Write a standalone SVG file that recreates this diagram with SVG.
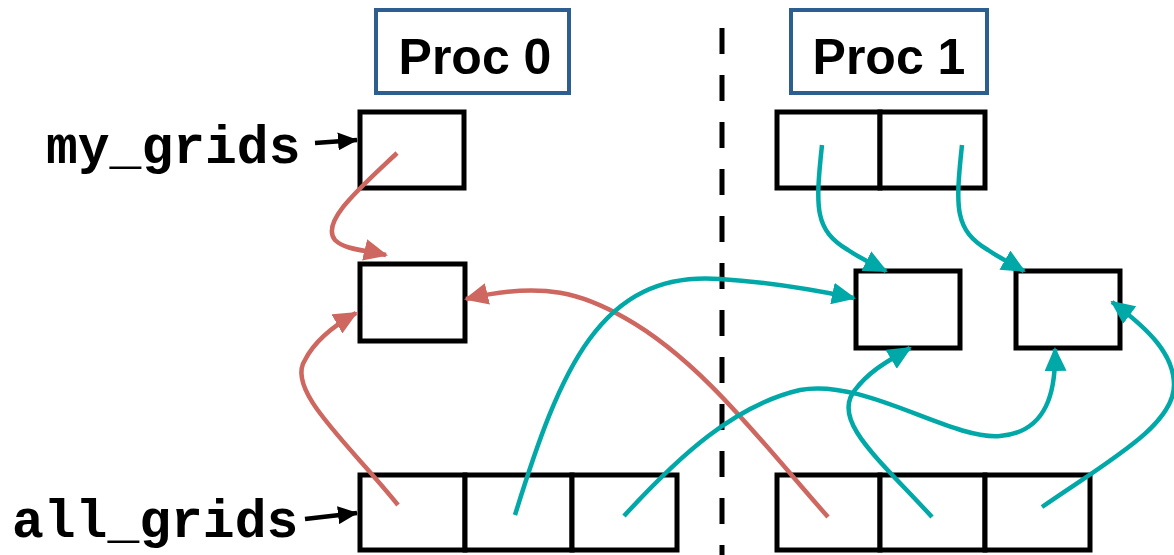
<svg xmlns="http://www.w3.org/2000/svg" width="1174" height="555" viewBox="0 0 1174 555">
<defs>
<style>
.box{fill:#fff;stroke:#000;stroke-width:5}
.proc{fill:#fff;stroke:#2D5E90;stroke-width:4}
.ptxt{font-family:"Liberation Sans",Arial,sans-serif;font-weight:bold;font-size:50px;fill:#000;text-anchor:middle}
.mono{font-family:"Liberation Mono","Courier New",monospace;font-weight:bold;font-size:53px;fill:#000}
.red{fill:none;stroke:#CD675F;stroke-width:4.5;marker-end:url(#ar)}
.teal{fill:none;stroke:#00A8A8;stroke-width:4.5;marker-end:url(#at)}
.blk{fill:none;stroke:#000;stroke-width:4.5;marker-end:url(#ab)}
</style>
<marker id="ar" markerUnits="userSpaceOnUse" markerWidth="24" markerHeight="22" viewBox="0 0 24 22" refX="22" refY="11" orient="auto"><path d="M0,0 L24,11 L0,22 Z" fill="#CD675F"/></marker>
<marker id="at" markerUnits="userSpaceOnUse" markerWidth="24" markerHeight="22" viewBox="0 0 24 22" refX="22" refY="11" orient="auto"><path d="M0,0 L24,11 L0,22 Z" fill="#00A8A8"/></marker>
<marker id="ab" markerUnits="userSpaceOnUse" markerWidth="20" markerHeight="18" viewBox="0 0 20 18" refX="19" refY="9" orient="auto"><path d="M0,0 L20,9 L0,18 Z" fill="#000"/></marker>
</defs>
<rect width="1174" height="555" fill="#fff"/>
<line x1="722" y1="28" x2="722" y2="555" stroke="#000" stroke-width="5" stroke-dasharray="26,21"/>
<g id="proc0"><rect class="proc" x="376" y="10" width="193" height="83"/><text class="ptxt" x="475" y="74">Proc 0</text></g>
<g id="proc1"><rect class="proc" x="791" y="10" width="196" height="83"/><text class="ptxt" x="889" y="74">Proc 1</text></g>
<g id="my_grids_label"><text class="mono" x="46" y="163">my_grids</text></g>
<g id="all_grids_label"><text class="mono" x="12" y="537">all_grids</text></g>
<g id="my_grids0"><rect class="box" x="360" y="112" width="104" height="76"/></g>
<g id="my_grids1"><rect class="box" x="777" y="112" width="103" height="76"/><rect class="box" x="880" y="112" width="105" height="76"/></g>
<g id="grid0"><rect class="box" x="360" y="264" width="105" height="77"/></g>
<g id="grid1"><rect class="box" x="856" y="271" width="104" height="77"/></g>
<g id="grid2"><rect class="box" x="1016" y="271" width="104" height="77"/></g>
<g id="all_grids0"><rect class="box" x="360" y="475" width="105" height="75"/><rect class="box" x="465" y="475" width="107" height="75"/><rect class="box" x="572" y="475" width="105" height="75"/></g>
<g id="all_grids1"><rect class="box" x="777" y="475" width="103" height="75"/><rect class="box" x="880" y="475" width="105" height="75"/><rect class="box" x="985" y="475" width="105" height="75"/></g>
<g id="connectors">
<path class="blk" d="M315,143 L357,140"/>
<path class="blk" d="M305,519 L357,513"/>
<path class="red" d="M397,153 C360,188 320,222 335,240 C345,250 365,250 386,255"/>
<path class="red" d="M398,505 C350,445 285,390 305,360 C315,340 335,325 356,313"/>
<path class="red" d="M828,517 C760,440 700,360 625,318 C585,295 545,280 466,299"/>
<path class="teal" d="M822,145 C815,210 815,230 848,250 C860,258 870,263 886,271"/>
<path class="teal" d="M962,145 C955,210 955,230 988,250 C1000,258 1010,263 1024,271"/>
<path class="teal" d="M515,515 C560,370 600,270 720,279 C770,282 820,291 854,298"/>
<path class="teal" d="M624,516 C680,455 735,405 800,390 C865,378 950,440 1000,436 C1048,432 1056,390 1055,349"/>
<path class="teal" d="M932,517 C880,460 830,420 855,390 C870,370 890,360 910,348"/>
<path class="teal" d="M1042,507 C1110,460 1174,425 1174,385 C1174,355 1150,330 1112,302"/>
</g>
</svg>
